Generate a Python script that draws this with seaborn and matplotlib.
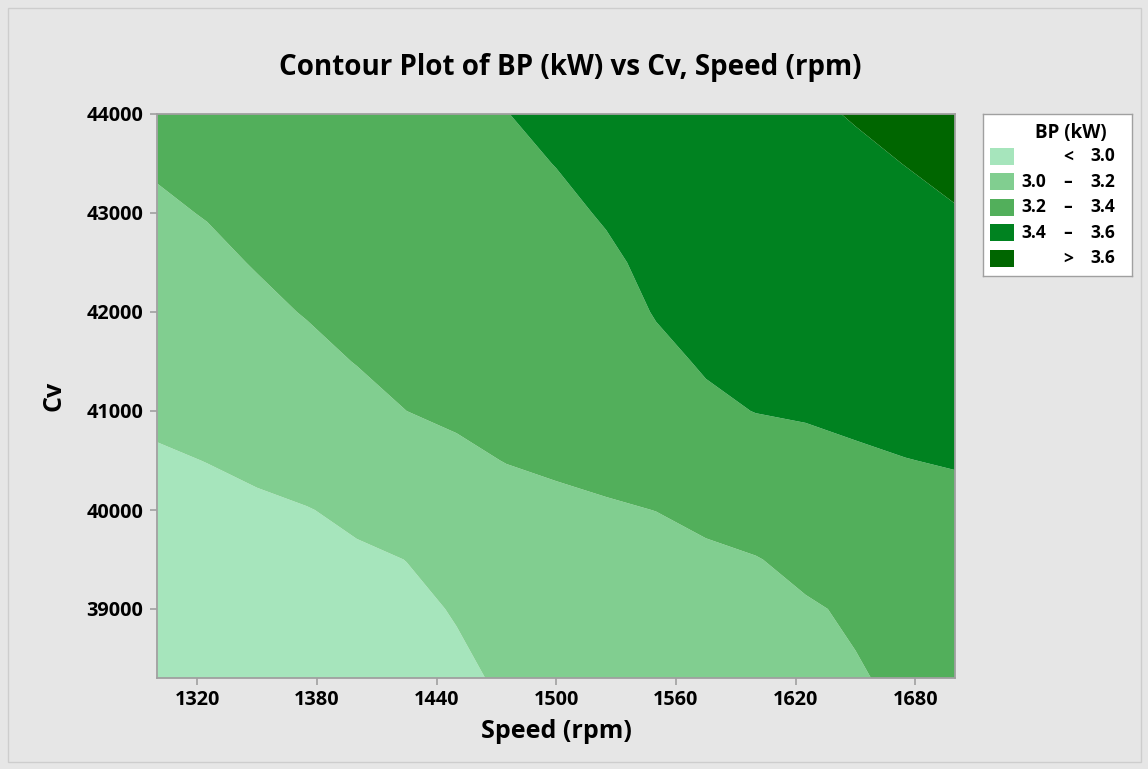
"""Contour plot of BP (kW) vs Cv and Speed (rpm), Minitab style."""

import matplotlib
matplotlib.use("Agg")
import matplotlib.pyplot as plt
from matplotlib.patches import Rectangle
import numpy as np
import seaborn as sns

# grid
speed = [1300, 1325, 1350, 1375, 1400, 1425, 1450, 1475, 1500,
         1525, 1550, 1575, 1600, 1625, 1650, 1675, 1700]
cv = [38300, 39000, 39500, 40000, 40500, 41000,
      41500, 42000, 42500, 43000, 43500, 44000]

# BP (kW), one row per Cv value, columns follow `speed`
bp_38300 = [2.820, 2.848, 2.875, 2.903, 2.930, 2.958, 2.985, 3.011, 3.038, 3.064, 3.090, 3.117, 3.143, 3.167, 3.190, 3.222, 3.250]
bp_39000 = [2.873, 2.897, 2.919, 2.941, 2.962, 2.983, 3.005, 3.072, 3.096, 3.116, 3.136, 3.155, 3.174, 3.188, 3.215, 3.278, 3.300]
bp_39500 = [2.911, 2.932, 2.951, 2.969, 2.985, 3.001, 3.063, 3.116, 3.137, 3.153, 3.168, 3.182, 3.195, 3.230, 3.283, 3.318, 3.336]
bp_40000 = [2.948, 2.967, 2.982, 2.996, 3.021, 3.068, 3.121, 3.160, 3.179, 3.190, 3.201, 3.224, 3.259, 3.296, 3.334, 3.358, 3.371]
bp_40500 = [2.986, 3.002, 3.022, 3.048, 3.085, 3.135, 3.179, 3.203, 3.215, 3.228, 3.256, 3.299, 3.335, 3.362, 3.385, 3.398, 3.407]
bp_41000 = [3.024, 3.044, 3.070, 3.104, 3.149, 3.200, 3.217, 3.230, 3.246, 3.266, 3.312, 3.374, 3.403, 3.412, 3.422, 3.432, 3.444]
bp_41500 = [3.063, 3.085, 3.119, 3.160, 3.205, 3.226, 3.244, 3.258, 3.278, 3.303, 3.367, 3.414, 3.428, 3.440, 3.453, 3.466, 3.481]
bp_42000 = [3.101, 3.127, 3.168, 3.208, 3.231, 3.252, 3.270, 3.286, 3.309, 3.341, 3.408, 3.435, 3.452, 3.468, 3.484, 3.500, 3.518]
bp_42500 = [3.140, 3.168, 3.209, 3.234, 3.257, 3.278, 3.297, 3.314, 3.340, 3.379, 3.429, 3.456, 3.477, 3.496, 3.515, 3.534, 3.556]
bp_43000 = [3.178, 3.207, 3.236, 3.260, 3.283, 3.304, 3.324, 3.342, 3.372, 3.411, 3.449, 3.478, 3.501, 3.524, 3.545, 3.568, 3.593]
bp_43500 = [3.215, 3.239, 3.263, 3.286, 3.309, 3.330, 3.350, 3.370, 3.403, 3.435, 3.470, 3.499, 3.525, 3.552, 3.576, 3.602, 3.631]
bp_44000 = [3.250, 3.270, 3.290, 3.312, 3.335, 3.356, 3.377, 3.398, 3.428, 3.459, 3.490, 3.520, 3.550, 3.580, 3.608, 3.639, 3.670]

levels = [2.0, 3.0, 3.2, 3.4, 3.6, 4.5]
band_colors = ["#A6E5BC", "#81CE90", "#52AF5B", "#008220", "#006600"]
legend_lower = ["", "3.0", "3.2", "3.4", ""]
legend_sym = ["<", "\u2013", "\u2013", "\u2013", ">"]
legend_upper = ["3.0", "3.2", "3.4", "3.6", "3.6"]

speed_ticks = [1320, 1380, 1440, 1500, 1560, 1620, 1680]
cv_ticks = [39000, 40000, 41000, 42000, 43000, 44000]

sns.set_theme(style="ticks")
plt.rcParams["font.family"] = ["Open Sans", "DejaVu Sans"]
plt.rcParams["text.color"] = "black"
plt.rcParams["axes.labelcolor"] = "black"

W, H = 1148, 769
fig = plt.figure(figsize=(W / 100, H / 100), dpi=100)
fig.patch.set_facecolor("#E6E6E6")
fig.patches.append(Rectangle((7.5 / W, 7.5 / H), 1 - 15 / W, 1 - 15 / H,
                             transform=fig.transFigure, fill=False,
                             edgecolor="#CDCDCD", linewidth=1))

ax = fig.add_axes([157.3 / W, 1 - 678.3 / H, 798 / W, 564.3 / H])
bp = np.array([bp_38300, bp_39000, bp_39500, bp_40000, bp_40500, bp_41000,
               bp_41500, bp_42000, bp_42500, bp_43000, bp_43500, bp_44000])
palette = sns.color_palette(band_colors)
ax.contourf(speed, cv, bp, levels=levels, colors=palette, antialiased=True)

ax.set_xlim(1300, 1700)
ax.set_ylim(38300, 44000)
ax.set_xticks(speed_ticks)
ax.set_yticks(cv_ticks)
for s in ax.spines.values():
    s.set_color("#A0A0A0")
    s.set_linewidth(1.3)
ax.tick_params(direction="out", length=5, width=1.2, color="#A0A0A0",
               labelsize=14.3, labelcolor="black")
ax.tick_params(axis="x", pad=3.5)
ax.tick_params(axis="y", pad=5)
for lab in ax.get_xticklabels() + ax.get_yticklabels():
    lab.set_fontweight("bold")

ax.set_xlabel("Speed (rpm)", fontsize=18, fontweight="bold", va="center")
ax.xaxis.set_label_coords(0.5, (678.3 - 731) / 564.3)
ax.set_ylabel("Cv", fontsize=18, fontweight="bold", va="center", ha="center")
ax.yaxis.set_label_coords((54 - 157.3) / 798, 0.5)

fig.text(570 / W, 1 - 67 / H, "Contour Plot of BP (kW) vs Cv, Speed (rpm)",
         ha="center", va="center", fontsize=20, fontweight="bold")

# legend drawn in its own small axes, pixel units
lg = fig.add_axes([982.7 / W, 1 - 276 / H, 149 / W, 162 / H])
lg.set_xlim(0, 149)
lg.set_ylim(162, 0)
lg.set_xticks([])
lg.set_yticks([])
for s in lg.spines.values():
    s.set_color("#A0A0A0")
    s.set_linewidth(1)
lg.text(88.3, 18.7, "BP (kW)", ha="center", va="center", fontsize=13.5,
        fontweight="bold")
for i, col in enumerate(palette):
    yc = 42.3 + i * 25.5
    lg.add_patch(Rectangle((7.3, yc - 8.5), 24, 17, facecolor=col, edgecolor="none"))
    kw = dict(va="center", fontsize=12.5, fontweight="bold")
    lg.text(63.3, yc, legend_lower[i], ha="right", **kw)
    lg.text(85.3, yc, legend_sym[i], ha="center", **kw)
    lg.text(132.3, yc, legend_upper[i], ha="right", **kw)

fig.savefig("out.png", dpi=100, facecolor=fig.get_facecolor())
